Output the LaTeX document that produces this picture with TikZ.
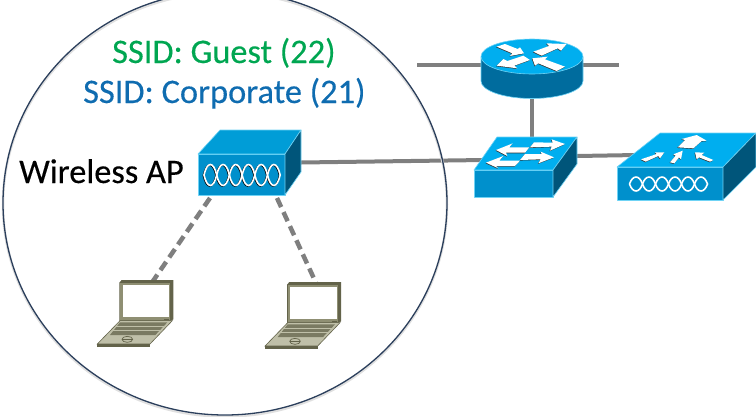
\documentclass[tikz,border=0pt]{standalone}
\usepackage{fontspec}
\setmainfont[FakeBold=0.3]{Carlito}
\usetikzlibrary{shapes.geometric}
\definecolor{topblue}{HTML}{00AEEF}
\definecolor{frontblue}{HTML}{0090CC}
\definecolor{sideblue}{HTML}{00557A}
\definecolor{routerblue}{HTML}{006C9E}
\definecolor{edgeblue}{HTML}{6FD3F5}
\definecolor{linkgray}{HTML}{7F7F7F}
\definecolor{ringblue}{HTML}{2B3F5C}
\definecolor{ssidgreen}{HTML}{00A651}
\definecolor{ssidblue}{HTML}{0F6CB0}
\definecolor{lapdark}{HTML}{63634A}
\definecolor{lapmid}{HTML}{8F8F73}
\definecolor{lapkeys}{HTML}{BFBFA8}
\tikzset{
  spot/.style = {inner sep=0pt, outer sep=0pt, rectangle},
  link/.style = {draw=linkgray, line width=4pt},
  wifilink/.style = {link, line width=4.5pt, dash pattern=on 10pt off 5.5pt},
  facet/.style = {draw=edgeblue, line width=0.6pt, line join=round},
  flow/.style = {fill=white},
  flowshade/.style = {fill=black!80, xshift=-1.5pt, yshift=-1.8pt},
  wave/.style = {draw=white, line width=1.6pt},
  waveshade/.style = {draw=black, line width=1.6pt},
  lbl/.style = {font=\fontsize{34.4}{38}\selectfont, inner sep=0pt, anchor=base west},
}
\newcommand{\flowarrow}[1]{
  \fill[flowshade] #1 -- cycle;
  \fill[flow] #1 -- cycle;
}
\newcommand{\waves}[5]{
  \begin{scope}[shift={(#1,#2)}, xscale=#3, yscale=#4]
    \foreach \n in {0,...,5}
      \draw[#5] (\n,0) .. controls (\n+.25,-1.33) and (\n+.75,-1.33) .. (\n+1,0) .. controls (\n+.75,1.33) and (\n+.25,1.33) .. (\n,0);
  \end{scope}
}
\newcommand{\laptop}[2]{
  \begin{scope}[shift={(#1,#2)}, scale=1/3]
    \fill[lapdark] (88,68) -- (95,60) -- (250,60) -- (250,178) -- (240,184) -- (88,184) -- cycle;
    \fill[lapmid] (91,70) rectangle (241,180);
    \fill[white] (98,76) rectangle (238,172);
    \fill[lapdark] (222,176) rectangle (238,180);
    \fill[lapkeys, draw=lapdark, line width=0.6pt] (90,182) -- (247,182) -- (180,252) -- (22,252) -- cycle;
    \fill[lapdark] (22,252) -- (180,252) -- (180,260) -- (22,260) -- cycle;
    \fill[lapmid!85!black] (90,187) -- (232,187) -- (196,225) -- (60,225) -- cycle;
    \foreach \k in {0,1}
      \draw[lapkeys, line width=0.7pt] (79-12*\k,199+13*\k) -- (222-12*\k,199+13*\k);
    \draw[lapdark, line width=0.7pt] (112,238) ellipse (16 and 9);
    \draw[lapdark, line width=0.6pt] (96,238) -- (128,238);
  \end{scope}
}
\begin{document}
\begin{tikzpicture}[x=1pt, y=-1pt]
  \useasboundingbox (0,0) rectangle (756,416);
  \node[spot, minimum width=103pt, minimum height=65pt] (ap) at (249.5,162.5) {};
  \node[spot, minimum width=102pt, minimum height=52pt] (router) at (532,65) {};
  \node[spot, minimum width=103pt, minimum height=60pt] (switch) at (525.5,167) {};
  \node[spot, minimum width=139pt, minimum height=67pt] (wlc) at (686.5,166.5) {};
  \node[spot, minimum width=76pt, minimum height=66pt] (lapa) at (135,314) {};
  \node[spot, minimum width=76pt, minimum height=66pt] (lapb) at (302.7,316) {};
  \coordinate (wanleft) at (417,65);
  \coordinate (wanright) at (619,65);
  % links
  \draw[link] (wanleft) -- (router);
  \draw[link] (router) -- (wanright);
  \draw[link] (router.south) -- (router.south |- switch.north);
  \draw[link] (ap.east) -- ([xshift=10pt,yshift=7pt]switch.west);
  \draw[link] ([yshift=11pt]switch.east) -- ([xshift=20pt,yshift=11.5pt]wlc.west);
  \draw[wifilink] ([xshift=-39.5pt,yshift=-3pt]ap.south) -- ([xshift=18pt]lapa.north);
  \draw[wifilink] ([xshift=27.5pt,yshift=-3pt]ap.south) -- ([xshift=13.3pt]lapb.north);
  % coverage area
  \node[ellipse, draw=black!12, line width=2.5pt, minimum width=444pt, minimum height=424pt, inner sep=0pt] (shade) at (225,204.5) {};
  \node[ellipse, draw=ringblue, line width=1.3pt, minimum width=444pt, minimum height=424pt, inner sep=0pt] (cell) at (225,203) {};
  % labels
  \node[lbl, text=ssidgreen] (guest) at (112,63) {SSID: Guest (22)};
  \node[lbl, text=ssidblue] (corp) at (83,103) {SSID: Corporate (21)};
  \node[lbl, text=black] (aplabel) at (19,183) {Wireless AP};
  % wireless AP
  \fill[facet, fill=frontblue] (198,154) rectangle (285,195);
  \fill[facet, fill=topblue!90!black] (198,154) -- (220,130) -- (301,130) -- (285,154) -- cycle;
  \fill[facet, fill=sideblue] (285,154) -- (301,130) -- (301,172) -- (285,195) -- cycle;
  \waves{203.4}{175.5}{12.7}{10.5}{waveshade}
  \waves{204}{175}{12.7}{10.5}{wave}
  % router
  \fill[facet, fill=routerblue] (481,57) -- (481,81) arc[start angle=180, end angle=360, x radius=51, y radius=-17.5] -- (583,57) -- cycle;
  \fill[facet, fill=topblue] (532,56.5) ellipse (51 and 17.5);
  \begin{scope}[shift={(475,35)}, scale=1/3]
    \flowarrow{(65,35) -- (90,27) -- (128,42) -- (135,37) -- (147,55) -- (105,63) -- (112,55)}
    \flowarrow{(175,50) -- (222,33) -- (215,25) -- (275,27) -- (258,47) -- (248,40) -- (200,62)}
    \flowarrow{(65,92) -- (85,72) -- (97,78) -- (145,62) -- (165,75) -- (118,92) -- (127,100)}
    \flowarrow{(172,70) -- (218,65) -- (210,73) -- (270,95) -- (245,108) -- (190,85) -- (180,92)}
  \end{scope}
  % switch
  \fill[facet, fill=frontblue] (474,170) rectangle (553,197);
  \fill[facet, fill=topblue] (474,170) -- (497,137) -- (577,137) -- (553,170) -- cycle;
  \fill[facet, fill=sideblue] (553,170) -- (577,137) -- (577,164) -- (553,197) -- cycle;
  \begin{scope}[shift={(470,130)}, scale=1/3]
    \flowarrow{(78,60) -- (128,40) -- (118,52) -- (178,52) -- (165,68) -- (108,68) -- (112,78)}
    \flowarrow{(285,42) -- (240,62) -- (245,50) -- (180,52) -- (192,37) -- (248,38) -- (245,28)}
    \flowarrow{(252,82) -- (205,100) -- (212,88) -- (150,90) -- (165,72) -- (215,72) -- (212,65)}
    \flowarrow{(48,98) -- (100,78) -- (88,92) -- (150,92) -- (135,108) -- (78,108) -- (85,115)}
  \end{scope}
  % controller
  \fill[facet, fill=frontblue] (617,167) rectangle (723,200);
  \fill[facet, fill=topblue] (617,167) -- (660,133) -- (756,133) -- (723,167) -- cycle;
  \fill[facet, fill=sideblue] (723,167) -- (756,133) -- (756,167) -- (723,200) -- cycle;
  \begin{scope}[shift={(615,130)}, scale=1/3]
    \flowarrow{(188,52) -- (210,30) -- (200,27) -- (245,15) -- (275,32) -- (260,33) -- (235,55)}
    \flowarrow{(78,88) -- (125,72) -- (120,67) -- (148,67) -- (135,85) -- (130,78) -- (92,95)}
    \flowarrow{(165,97) -- (182,77) -- (175,73) -- (203,62) -- (198,88) -- (192,82) -- (178,100)}
    \flowarrow{(240,67) -- (268,68) -- (260,75) -- (295,90) -- (285,95) -- (252,82) -- (245,88)}
  \end{scope}
  \waves{629.5}{184}{13}{7}{wave}
  % laptops
  \laptop{90}{260}
  \laptop{257.7}{262}
\end{tikzpicture}
\end{document}
